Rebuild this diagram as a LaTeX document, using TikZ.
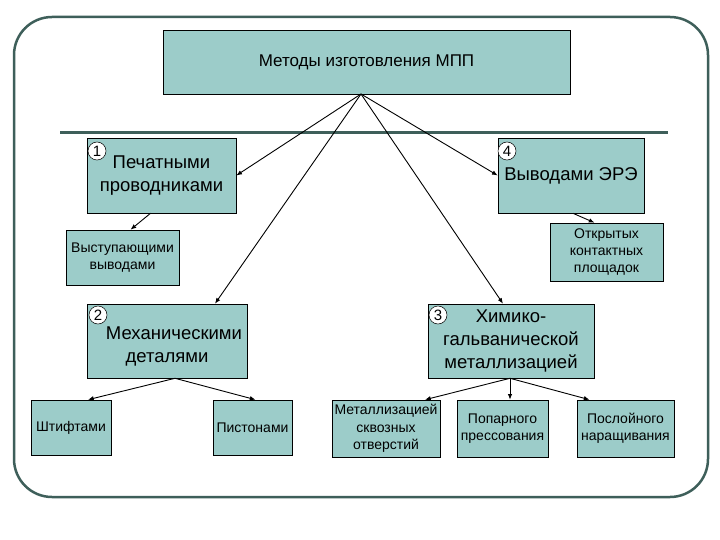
\documentclass[tikz,border=0pt]{standalone}
\usepackage{fontspec}
\setmainfont{Liberation Sans}
\usetikzlibrary{arrows.meta, positioning}
\definecolor{mteal}{HTML}{9CCCC9}
\definecolor{mframe}{HTML}{3E5F5A}
\tikzset{
  >={Latex[length=2mm,width=1.6mm]},
  box/.style={
    draw=black, fill=mteal, line width=0.6pt, align=center,
    inner sep=1pt, font=\fontsize{#1}{1.24\dimexpr#1pt\relax}\selectfont
  },
  box/.default=14,
  numdot/.style={
    circle, draw=black, fill=white, line width=0.5pt, inner sep=0pt,
    minimum size=18pt, font=\fontsize{15}{15}\selectfont
  },
  arr/.style={->, line width=0.9pt, draw=black}
}

\begin{document}
\begin{tikzpicture}[x=1pt,y=-1pt]
  \useasboundingbox (0,0) rectangle (720,540);
  \fill[white] (0,0) rectangle (720,540);
  % outer frame and divider
  \draw[mframe, line width=2.5pt, rounded corners=38pt] (14,17) rectangle (708,497);
  \draw[mframe, line width=3pt] (60,133) -- (668,133);

  % top
  \node[box=17, minimum width=407pt, minimum height=64pt] (mpp) at (366.5,62)
    {Методы изготовления МПП};

  % first level
  \node[box=18.5, minimum width=149pt, minimum height=75pt] (print) at (161.5,175.5)
    {Печатными\\проводниками};
  \node[box=18.5, minimum width=146pt, minimum height=75pt] (ere) at (571,175.5)
    {Выводами ЭРЭ};
  \node[box=18.5, minimum width=160pt, minimum height=74pt] (mech) at (167,341)
    {\rule{0pt}{23pt}\hspace*{14pt}Механическими\\деталями};
  \node[box=18.5, minimum width=166pt, minimum height=74pt] (chem) at (511,341)
    {Химико-\\гальванической\\металлизацией};

  % numbers
  \node[numdot] (n1) at (97,151) {1};
  \node[numdot] (n4) at (507,151) {4};
  \node[numdot] (n2) at (98,315) {2};
  \node[numdot] (n3) at (438,315) {3};

  % second level
  \node[box, minimum width=113pt, minimum height=55pt] (lead) at (122.5,257.5)
    {Выступающими\\выводами};
  \node[box, minimum width=113pt, minimum height=58pt] (pads) at (606.5,252)
    {Открытых\\контактных\\площадок};
  \node[box, minimum width=80pt, minimum height=55pt] (pins) at (71,427.5)
    {Штифтами};
  \node[box, minimum width=79pt, minimum height=55pt] (rivet) at (252.5,427.5)
    {Пистонами};
  \node[box, minimum width=108pt, minimum height=57pt] (holes) at (386,428.5)
    {Металлизацией\\сквозных\\отверстий};
  \node[box, minimum width=91pt, minimum height=57pt] (pair) at (502.5,428.5)
    {Попарного\\прессования};
  \node[box, minimum width=97pt, minimum height=57pt] (layer) at (625.5,428.5)
    {Послойного\\наращивания};

  % arrows
  \coordinate (top) at (361,94);
  \draw[arr] (top) -- (print.east);
  \draw[arr] (top) -- (ere.west);
  \draw[arr] (top) -- ([xshift=48pt]mech.north);
  \draw[arr] (top) -- ([xshift=-8pt]chem.north);
  \draw[arr] ([xshift=-11pt]print.south) -- ([xshift=8pt]lead.north);
  \draw[arr] ([xshift=2pt]ere.south) -- ([xshift=-12pt]pads.north);
  \coordinate (mbot) at ([xshift=8pt]mech.south);
  \draw[arr] (mbot) -- ([xshift=17pt]pins.north);
  \draw[arr] (mbot) -- ([xshift=3pt]rivet.north);
  \coordinate (cbot) at ([xshift=-1pt]chem.south);
  \draw[arr] (cbot) -- ([xshift=39pt]holes.north);
  \draw[arr] (cbot) -- ([xshift=7.5pt]pair.north);
  \draw[arr] (cbot) -- ([xshift=-36pt]layer.north);
\end{tikzpicture}
\end{document}
